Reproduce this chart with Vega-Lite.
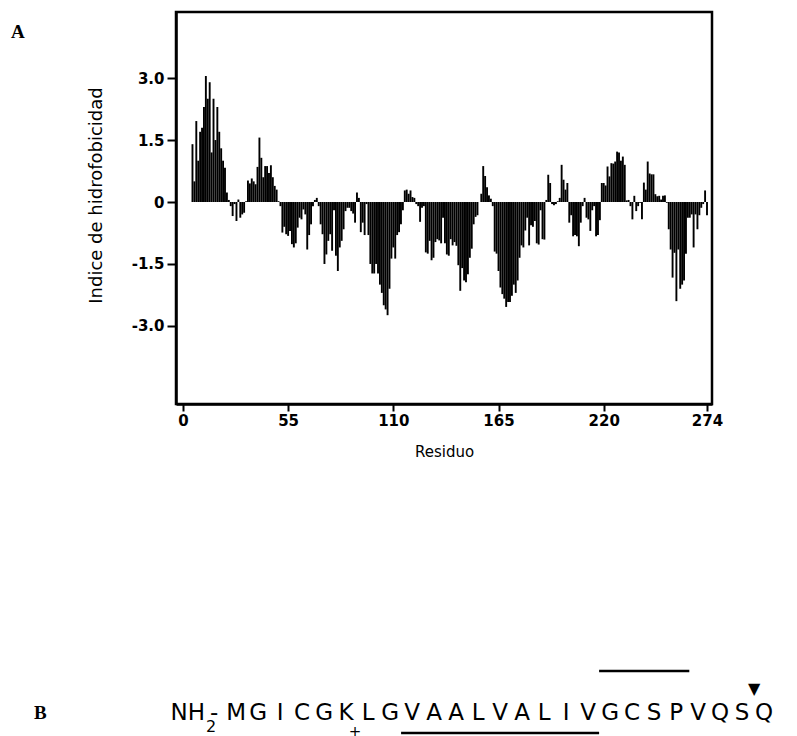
{
  "$schema": "https://vega.github.io/schema/vega-lite/v6.json",
  "background": "white",
  "padding": {"left": 9, "top": 10, "right": 5, "bottom": 5},
  "spacing": 208,
  "datasets": {
    "profile": [
      {"r":5,"v":1.4},{"r":6,"v":0.5},{"r":7,"v":1.96},{"r":8,"v":1.0},{"r":9,"v":1.7},{"r":10,"v":1.8},{"r":11,"v":2.3},{"r":12,"v":3.05},{"r":13,"v":2.5},{"r":14,"v":2.9},
      {"r":15,"v":1.2},{"r":16,"v":2.5},{"r":17,"v":1.5},{"r":18,"v":2.3},{"r":19,"v":1.7},{"r":20,"v":1.3},{"r":21,"v":1.0},{"r":22,"v":0.83},{"r":23,"v":0.23},{"r":24,"v":0.05},
      {"r":25,"v":-0.1},{"r":26,"v":-0.34},{"r":27,"v":-0.05},{"r":28,"v":-0.46},{"r":29,"v":0.06},{"r":30,"v":-0.38},{"r":31,"v":-0.3},{"r":32,"v":-0.26},{"r":33,"v":0.02},{"r":34,"v":0.52},
      {"r":35,"v":0.45},{"r":36,"v":0.57},{"r":37,"v":0.5},{"r":38,"v":0.43},{"r":39,"v":0.85},{"r":40,"v":1.56},{"r":41,"v":1.07},{"r":42,"v":0.6},{"r":43,"v":0.87},{"r":44,"v":0.87},
      {"r":45,"v":0.7},{"r":46,"v":0.89},{"r":47,"v":0.6},{"r":48,"v":0.39},{"r":49,"v":0.3},{"r":50,"v":0.02},{"r":51,"v":-0.1},{"r":52,"v":-0.74},{"r":53,"v":-0.6},{"r":54,"v":-0.78},
      {"r":55,"v":-0.82},{"r":56,"v":-0.7},{"r":57,"v":-1.02},{"r":58,"v":-1.1},{"r":59,"v":-1.0},{"r":60,"v":-0.62},{"r":61,"v":-0.38},{"r":62,"v":-0.42},{"r":63,"v":-0.18},{"r":64,"v":-0.3},
      {"r":65,"v":-1.15},{"r":66,"v":-0.8},{"r":67,"v":-0.54},{"r":68,"v":-0.1},{"r":69,"v":0.05},{"r":70,"v":0.1},{"r":71,"v":-0.1},{"r":72,"v":-0.54},{"r":73,"v":-0.78},{"r":74,"v":-1.5},
      {"r":75,"v":-1.27},{"r":76,"v":-0.94},{"r":77,"v":-0.78},{"r":78,"v":-1.18},{"r":79,"v":-0.2},{"r":80,"v":-1.3},{"r":81,"v":-1.67},{"r":82,"v":-1.1},{"r":83,"v":-0.94},{"r":84,"v":-0.66},
      {"r":85,"v":-0.22},{"r":86,"v":-0.14},{"r":87,"v":-0.14},{"r":88,"v":-0.22},{"r":89,"v":-0.28},{"r":90,"v":-0.5},{"r":91,"v":0.23},{"r":92,"v":0.1},{"r":93,"v":-0.73},{"r":94,"v":-0.5},
      {"r":95,"v":-0.8},{"r":96,"v":-0.05},{"r":97,"v":-0.8},{"r":98,"v":-1.5},{"r":99,"v":-1.73},{"r":100,"v":-1.73},{"r":101,"v":-1.5},{"r":102,"v":-1.73},{"r":103,"v":-2.0},{"r":104,"v":-2.2},
      {"r":105,"v":-2.5},{"r":106,"v":-2.6},{"r":107,"v":-2.74},{"r":108,"v":-2.1},{"r":109,"v":-1.37},{"r":110,"v":-1.1},{"r":111,"v":-1.37},{"r":112,"v":-0.8},{"r":113,"v":-0.73},{"r":114,"v":-0.54},
      {"r":115,"v":-0.2},{"r":116,"v":0.28},{"r":117,"v":0.3},{"r":118,"v":0.2},{"r":119,"v":0.28},{"r":120,"v":0.12},{"r":121,"v":0.1},{"r":122,"v":-0.05},{"r":123,"v":-0.1},{"r":124,"v":-0.48},
      {"r":125,"v":-0.14},{"r":126,"v":-0.1},{"r":127,"v":-1.22},{"r":128,"v":-1.25},{"r":129,"v":-0.94},{"r":130,"v":-1.41},{"r":131,"v":-1.35},{"r":132,"v":-0.97},{"r":133,"v":-0.9},{"r":134,"v":-0.93},
      {"r":135,"v":-1.0},{"r":136,"v":-0.38},{"r":137,"v":-1.0},{"r":138,"v":-1.27},{"r":139,"v":-1.3},{"r":140,"v":-0.9},{"r":141,"v":-1.05},{"r":142,"v":-0.97},{"r":143,"v":-1.06},{"r":144,"v":-1.53},
      {"r":145,"v":-2.15},{"r":146,"v":-1.6},{"r":147,"v":-1.9},{"r":148,"v":-1.94},{"r":149,"v":-1.75},{"r":150,"v":-1.35},{"r":151,"v":-1.13},{"r":152,"v":-0.54},{"r":153,"v":-0.36},{"r":154,"v":-0.32},
      {"r":155,"v":0.0},{"r":156,"v":0.2},{"r":157,"v":0.87},{"r":158,"v":0.63},{"r":159,"v":0.36},{"r":160,"v":0.16},{"r":161,"v":0.08},{"r":162,"v":-0.1},{"r":163,"v":-1.2},{"r":164,"v":-1.25},
      {"r":165,"v":-1.67},{"r":166,"v":-2.07},{"r":167,"v":-2.23},{"r":168,"v":-2.34},{"r":169,"v":-2.54},{"r":170,"v":-2.42},{"r":171,"v":-2.42},{"r":172,"v":-2.27},{"r":173,"v":-2.0},{"r":174,"v":-2.2},
      {"r":175,"v":-1.9},{"r":176,"v":-1.35},{"r":177,"v":-1.05},{"r":178,"v":-1.1},{"r":179,"v":-0.69},{"r":180,"v":-0.38},{"r":181,"v":-1.05},{"r":182,"v":-0.56},{"r":183,"v":-0.6},{"r":184,"v":-0.46},
      {"r":185,"v":-1.0},{"r":186,"v":-1.03},{"r":187,"v":-0.2},{"r":188,"v":-0.9},{"r":189,"v":-0.91},{"r":190,"v":0.05},{"r":191,"v":0.66},{"r":192,"v":0.46},{"r":193,"v":-0.05},{"r":194,"v":-0.08},
      {"r":195,"v":-0.05},{"r":196,"v":0.02},{"r":197,"v":0.1},{"r":198,"v":0.9},{"r":199,"v":0.54},{"r":200,"v":0.3},{"r":201,"v":0.46},{"r":202,"v":-0.5},{"r":203,"v":-0.32},{"r":204,"v":-0.83},
      {"r":205,"v":-0.8},{"r":206,"v":-0.83},{"r":207,"v":-1.07},{"r":208,"v":-0.5},{"r":209,"v":-0.1},{"r":210,"v":0.1},{"r":211,"v":-0.38},{"r":212,"v":-0.42},{"r":213,"v":-0.7},{"r":214,"v":-0.2},
      {"r":215,"v":-0.1},{"r":216,"v":-0.83},{"r":217,"v":-0.8},{"r":218,"v":-0.44},{"r":219,"v":0.46},{"r":220,"v":0.46},{"r":221,"v":0.4},{"r":222,"v":0.86},{"r":223,"v":0.62},{"r":224,"v":0.94},
      {"r":225,"v":0.93},{"r":226,"v":0.98},{"r":227,"v":1.22},{"r":228,"v":1.2},{"r":229,"v":1.0},{"r":230,"v":1.1},{"r":231,"v":0.9},{"r":232,"v":0.04},{"r":233,"v":0.05},{"r":234,"v":-0.1},
      {"r":235,"v":-0.42},{"r":236,"v":0.15},{"r":237,"v":-0.22},{"r":238,"v":-0.1},{"r":239,"v":-0.02},{"r":240,"v":-0.42},{"r":241,"v":0.47},{"r":242,"v":0.3},{"r":243,"v":0.98},{"r":244,"v":0.69},
      {"r":245,"v":0.67},{"r":246,"v":0.67},{"r":247,"v":0.19},{"r":248,"v":0.14},{"r":249,"v":0.15},{"r":250,"v":0.06},{"r":251,"v":0.15},{"r":252,"v":0.16},{"r":253,"v":-0.02},{"r":254,"v":-0.66},
      {"r":255,"v":-1.15},{"r":256,"v":-1.83},{"r":257,"v":-1.23},{"r":258,"v":-2.4},{"r":259,"v":-1.15},{"r":260,"v":-2.1},{"r":261,"v":-2.0},{"r":262,"v":-1.9},{"r":263,"v":-1.25},{"r":264,"v":-0.38},
      {"r":265,"v":-0.38},{"r":266,"v":-0.3},{"r":267,"v":-1.1},{"r":268,"v":-0.3},{"r":269,"v":-0.66},{"r":270,"v":-0.32},{"r":271,"v":-0.14},{"r":272,"v":-0.05},{"r":273,"v":0.28},{"r":274,"v":-0.32}
    ],
    "letters": [
      {"pos":2,"ch":"-"},
      {"pos":3,"ch":"M"},{"pos":4,"ch":"G"},{"pos":5,"ch":"I"},{"pos":6,"ch":"C"},{"pos":7,"ch":"G"},{"pos":8,"ch":"K"},{"pos":9,"ch":"L"},{"pos":10,"ch":"G"},
      {"pos":11,"ch":"V"},{"pos":12,"ch":"A"},{"pos":13,"ch":"A"},{"pos":14,"ch":"L"},{"pos":15,"ch":"V"},{"pos":16,"ch":"A"},{"pos":17,"ch":"L"},{"pos":18,"ch":"I"},{"pos":19,"ch":"V"},
      {"pos":20,"ch":"G"},{"pos":21,"ch":"C"},{"pos":22,"ch":"S"},{"pos":23,"ch":"P"},{"pos":24,"ch":"V"},{"pos":25,"ch":"Q"},{"pos":26,"ch":"S"},{"pos":27,"ch":"Q"}
    ],
    "nterm": [{"pos":2,"group":"NH","sub":"2"}],
    "charge": [{"pos":8,"ch":"+"}],
    "cleavage": [{"pos":26,"ch":"▼"}],
    "segments": [
      {"from":10.5,"to":19.5,"track":"under"},
      {"from":19.5,"to":23.6,"track":"over"}
    ]
  },
  "vconcat": [
    {
      "width": 536,
      "height": 392,
      "title": {"text":"A","anchor":"start","frame":"group","orient":"top","font":"Liberation Serif","fontSize":19,"fontWeight":"bold","color":"black","baseline":"alphabetic","offset":0,"dx":-165,"dy":45},
      "layer": [
        {
          "data": {"name": "profile"},
          "mark": {"type": "bar", "orient": "vertical", "size": 1.9, "color": "black"},
          "encoding": {
            "x": {"field": "r", "type": "quantitative",
                  "scale": {"domain": [-1, 274], "nice": false, "zero": false},
                  "axis": {"values": [0, 55, 110, 165, 220, 274], "title": "Residuo", "tickSize": 7, "tickWidth": 2, "domainWidth": 2.5,
                           "labelFont": "DejaVu Sans", "labelFontSize": 15, "labelFontWeight": "bold", "labelPadding": 2,
                           "titleFont": "DejaVu Sans", "titleFontSize": 15, "titleFontWeight": "normal", "titlePadding": 16, "grid": false}},
            "y": {"field": "v", "type": "quantitative",
                  "scale": {"domain": [-4.89, 4.6], "nice": false},
                  "axis": {"values": [-3, -1.5, 0, 1.5, 3],
                           "labelExpr": "datum.value == 0 ? '0' : (datum.value < 0 ? '-' + format(-datum.value, '.1f') : format(datum.value, '.1f'))",
                           "title": "Indice de hidrofobicidad", "titleY": 183, "tickSize": 9, "tickWidth": 2, "domainWidth": 2.5,
                           "labelFont": "DejaVu Sans", "labelFontSize": 15, "labelFontWeight": "bold", "labelPadding": 3,
                           "titleFont": "DejaVu Sans", "titleFontSize": 18, "titleFontWeight": "normal", "titlePadding": 26, "grid": false}}
          }
        },
        {
          "mark": {"type": "rule", "strokeWidth": 2, "color": "black"},
          "encoding": {"y": {"datum": 0}}
        }
      ]
    },
    {
      "width": 600,
      "height": 62,
      "view": {"stroke": null},
      "title": {"text":"B","anchor":"start","frame":"group","orient":"top","font":"Liberation Serif","fontSize":19,"fontWeight":"bold","color":"black","baseline":"alphabetic","offset":0,"dx":-142,"dy":68},
      "encoding": {
        "x": {"field": "pos", "type": "quantitative", "scale": {"domain": [0.27, 27.54], "nice": false, "zero": false}, "axis": null}
      },
      "layer": [
        {
          "data": {"name": "letters"},
          "mark": {"type": "text", "font": "DejaVu Sans", "fontSize": 23, "color": "black", "baseline": "alphabetic", "dy": 18},
          "encoding": {
            "y": {"datum": "seq", "type": "nominal", "scale": {"domain": ["over", "seq", "under"], "type": "point", "padding": 0}, "axis": null},
            "text": {"field": "ch"}
          }
        },
        {
          "data": {"name": "nterm"},
          "mark": {"type": "text", "font": "DejaVu Sans", "fontSize": 23, "color": "black", "baseline": "alphabetic", "align": "right", "dx": -9, "dy": 18},
          "encoding": {
            "y": {"datum": "seq", "type": "nominal"},
            "text": {"field": "group"}
          }
        },
        {
          "data": {"name": "nterm"},
          "mark": {"type": "text", "font": "DejaVu Sans", "fontSize": 16, "color": "black", "dx": -3, "dy": 25},
          "encoding": {
            "y": {"datum": "seq", "type": "nominal"},
            "text": {"field": "sub"}
          }
        },
        {
          "data": {"name": "charge"},
          "mark": {"type": "text", "font": "DejaVu Sans", "fontSize": 15, "color": "black", "dx": 9, "dy": -1},
          "encoding": {
            "y": {"datum": "under", "type": "nominal"},
            "text": {"field": "ch"}
          }
        },
        {
          "data": {"name": "cleavage"},
          "mark": {"type": "text", "font": "DejaVu Sans", "fontSize": 16, "color": "black", "dx": 12, "dy": 18},
          "encoding": {
            "y": {"datum": "over", "type": "nominal"},
            "text": {"field": "ch"}
          }
        },
        {
          "data": {"name": "segments"},
          "mark": {"type": "rule", "strokeWidth": 2.5, "color": "black"},
          "encoding": {
            "x": {"field": "from", "type": "quantitative"},
            "x2": {"field": "to"},
            "y": {"field": "track", "type": "nominal"}
          }
        }
      ]
    }
  ],
  "config": {
    "view": {"stroke": "black", "strokeWidth": 2.5},
    "axis": {"domainColor": "black", "tickColor": "black", "labelColor": "black", "titleColor": "black", "grid": false}
  }
}
